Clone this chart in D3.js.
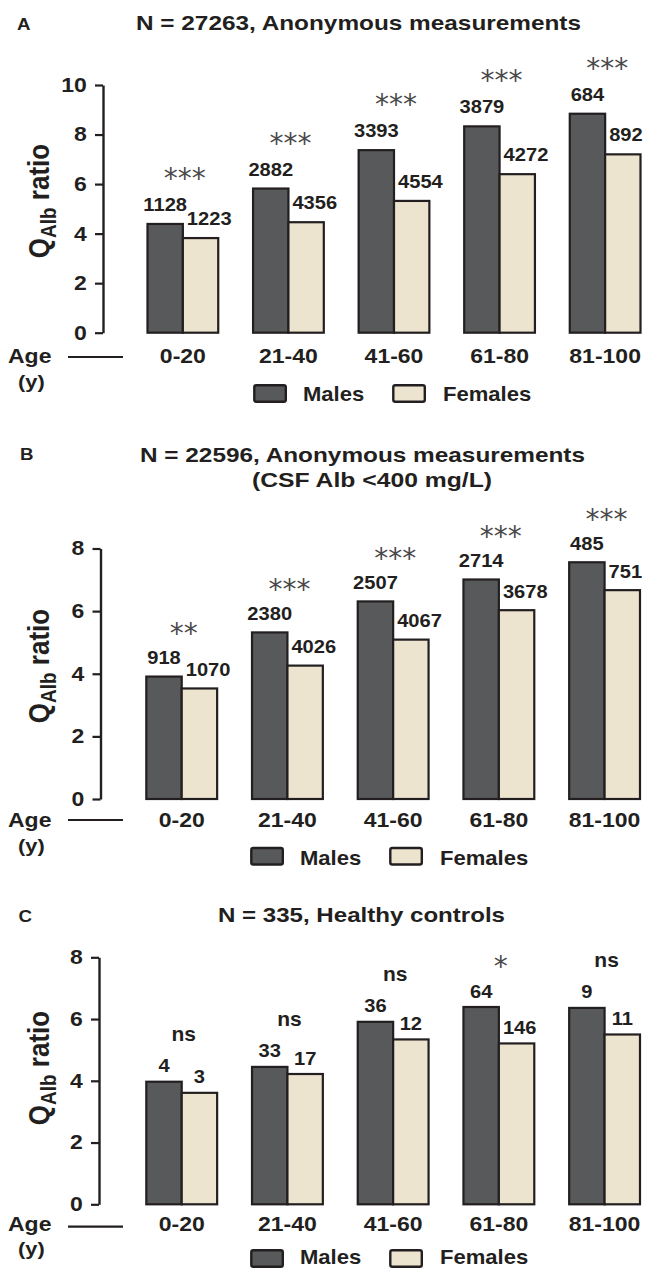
<!DOCTYPE html>
<html>
<head>
<meta charset="utf-8">
<script src="https://cdn.jsdelivr.net/npm/d3@7"></script>
<style>
  html, body { margin: 0; padding: 0; background: #fff; }
  svg { display: block; }
  text { font-family: "Liberation Sans", Arial, sans-serif; font-weight: bold; fill: #231f20; }
</style>
</head>
<body>
<svg id="chart" width="646" height="1269"></svg>
<script>
// ---------------- DATA ----------------
const categories = ["0-20", "21-40", "41-60", "61-80", "81-100"];
const seriesNames = ["Males", "Females"];

const malesA   = [4.39, 5.82, 7.37, 8.33, 8.84];
const femalesA = [3.82, 4.46, 5.32, 6.40, 7.20];
const nMalesA   = [1128, 2882, 3393, 3879, 684];
const nFemalesA = [1223, 4356, 4554, 4272, 892];
const sigA = ["***", "***", "***", "***", "***"];
const yTicksA = [0, 2, 4, 6, 8, 10];

const malesB   = [3.91, 5.32, 6.31, 7.01, 7.56];
const femalesB = [3.53, 4.26, 5.09, 6.03, 6.67];
const nMalesB   = [918, 2380, 2507, 2714, 485];
const nFemalesB = [1070, 4026, 4067, 3678, 751];
const sigB = ["**", "***", "***", "***", "***"];
const yTicksB = [0, 2, 4, 6, 8];

const malesC   = [3.97, 4.45, 5.91, 6.39, 6.36];
const femalesC = [3.61, 4.22, 5.34, 5.21, 5.50];
const nMalesC   = [4, 33, 36, 64, 9];
const nFemalesC = [3, 17, 12, 146, 11];
const sigC = ["ns", "ns", "ns", "*", "ns"];
const yTicksC = [0, 2, 4, 6, 8];

const titlesA = ["N = 27263, Anonymous measurements"];
const titlesB = ["N = 22596, Anonymous measurements", "(CSF Alb <400 mg/L)"];
const titlesC = ["N = 335, Healthy controls"];

// ---------------- LAYOUT ----------------
const SX = 1.15;           // horizontal stretch of the original lettering
const INK = "#231f20";
const MALE = "#58595b";
const FEMALE = "#ede4cf";

const panels = [
  { letter: "A", titles: titlesA, males: malesA, females: femalesA, nM: nMalesA, nF: nFemalesA, sig: sigA, ticks: yTicksA,
    letterX: 17, letterY: 30, titleX: [358.5], titleY: [30], titleW: [445],
    axisX: 103, yTop: 85, yZero: 332.7, bandX: [147.5, 640.5], labelGap: 13, sigGap: 39,
    ageDy: 30.6, lineDy: 24.3, yDy: 55.5, legDy: 52.5, legTextDy: 68.5, legDx: 0, ylabC: 201 },
  { letter: "B", titles: titlesB, males: malesB, females: femalesB, nM: nMalesB, nF: nFemalesB, sig: sigB, ticks: yTicksB,
    letterX: 20, letterY: 460, titleX: [362.5, 372], titleY: [461.5, 486.5], titleW: [445, 240],
    axisX: 100.5, yTop: 548.5, yZero: 799, bandX: [146.3, 640], labelGap: 12.5, sigGap: 36.7,
    ageDy: 27.7, lineDy: 21, yDy: 53, legDy: 49, legTextDy: 66, legDx: -3, ylabC: 666 },
  { letter: "C", titles: titlesC, males: malesC, females: femalesC, nM: nMalesC, nF: nFemalesC, sig: sigC, ticks: yTicksC,
    letterX: 18.5, letterY: 921.7, titleX: [361.5], titleY: [921.7], titleW: [287],
    axisX: 99, yTop: 957.3, yZero: 1204.3, bandX: [146.3, 640], labelGap: 9.5, sigGap: 37.5,
    ageDy: 27, lineDy: 22.4, yDy: 50.5, legDy: 46, legTextDy: 59.5, legDx: -3, ylabC: 1068 }
];

const svg = d3.select("#chart");
svg.append("rect").attr("width", 646).attr("height", 1269).attr("fill", "#fff");

function label(g, str, x, y, size, anchor, sx) {
  return g.append("text")
    .attr("transform", `translate(${x},${y}) scale(${sx == null ? SX : sx},1)`)
    .attr("text-anchor", anchor || "middle")
    .style("font-size", size + "px")
    .text(str);
}

panels.forEach(p => {
  const g = svg.append("g");
  const ymax = p.ticks[p.ticks.length - 1];
  const y = d3.scaleLinear().domain([0, ymax]).range([p.yZero, p.yTop]);
  const x = d3.scaleBand().domain(categories).range(p.bandX).paddingInner(0.33).paddingOuter(0);
  const half = x.bandwidth() / 2;

  // panel letter & title
  label(g, p.letter, p.letterX, p.letterY, 17, "start", 1.1);
  p.titles.forEach((t, i) => {
    g.append("text")
      .attr("x", p.titleX[i]).attr("y", p.titleY[i])
      .attr("text-anchor", "middle")
      .attr("textLength", p.titleW[i]).attr("lengthAdjust", "spacingAndGlyphs")
      .style("font-size", "21px")
      .text(t);
  });

  // y axis
  const yAxis = d3.axisLeft(y).tickValues(p.ticks).tickFormat(d3.format("d"))
    .tickSize(8).tickSizeOuter(0).tickPadding(6);
  const ag = g.append("g").attr("transform", `translate(${p.axisX},0)`).call(yAxis);
  ag.select(".domain").attr("stroke", INK).attr("stroke-width", 2.4);
  ag.selectAll(".tick line").attr("stroke", INK).attr("stroke-width", 2.2);
  ag.selectAll(".tick text")
    .attr("transform", `scale(${SX},1)`)
    .attr("fill", INK)
    .style("font-size", "20px").style("font-family", "'Liberation Sans', Arial, sans-serif").style("font-weight", "bold");

  // y label (Q_Alb ratio)
  const yl = g.append("text")
    .attr("transform", `translate(49,${p.ylabC}) scale(${SX},1) rotate(-90)`)
    .attr("text-anchor", "middle")
    .style("font-size", "26px");
  yl.append("tspan").text("Q");
  yl.append("tspan").attr("dy", 6).style("font-size", "19px").text("Alb");
  yl.append("tspan").attr("dy", -6).text(" ratio");

  // bars
  const bars = g.append("g");
  categories.forEach((c, i) => {
    bars.append("rect")
      .attr("x", x(c)).attr("y", y(p.males[i]))
      .attr("width", half).attr("height", y(0) - y(p.males[i]))
      .attr("fill", MALE).attr("stroke", INK).attr("stroke-width", 2.2);
    bars.append("rect")
      .attr("x", x(c) + half).attr("y", y(p.females[i]))
      .attr("width", half).attr("height", y(0) - y(p.females[i]))
      .attr("fill", FEMALE).attr("stroke", INK).attr("stroke-width", 2.2);
  });

  // counts and significance
  categories.forEach((c, i) => {
    const mx = x(c) + half / 2;
    const mBase = y(p.males[i]) - p.labelGap;
    label(g, String(p.nM[i]), mx, mBase, 17.5, "middle");
    const fBase = y(p.females[i]) - p.labelGap;
    const ft = label(g, String(p.nF[i]), 0, fBase, 17.5, "middle");
    const w = ft.node().getComputedTextLength() * SX;
    const fx = Math.max(x(c) + half * 1.5, x(c) + half + 4 + w / 2);
    ft.attr("transform", `translate(${fx},${fBase}) scale(${SX},1)`);

    const s = p.sig[i];
    const cx = x(c) + half + 2;
    const center = mBase - p.sigGap;
    if (s.startsWith("*")) {
      g.append("text")
        .attr("x", cx).attr("y", center + 16)
        .attr("text-anchor", "middle")
        .style("font-family", "'DejaVu Sans', sans-serif")
        .style("font-weight", "normal")
        .style("font-size", "28px")
        .style("fill", "#4a4a4a")
        .text(s);
    } else {
      label(g, s, cx, center + 6, 20, "middle", 1.05);
    }
  });

  // category labels (x axis without line)
  const xAxis = d3.axisBottom(x).tickSize(0).tickPadding(0);
  const xg = g.append("g").attr("transform", `translate(0,${p.yZero + p.ageDy})`).call(xAxis);
  xg.select(".domain").remove();
  xg.selectAll(".tick text")
    .attr("dy", 0)
    .attr("transform", `scale(${SX},1)`)
    .attr("fill", INK)
    .style("font-size", "20px").style("font-family", "'Liberation Sans', Arial, sans-serif").style("font-weight", "bold");

  // Age (y) marker
  label(g, "Age", 8, p.yZero + p.ageDy, 20, "start");
  label(g, "(y)", 18, p.yZero + p.yDy, 19, "start");
  g.append("line")
    .attr("x1", 68).attr("x2", 123)
    .attr("y1", p.yZero + p.lineDy).attr("y2", p.yZero + p.lineDy)
    .attr("stroke", INK).attr("stroke-width", 2.2);

  // legend
  const lg = g.append("g").attr("transform", `translate(${p.legDx},${p.yZero})`);
  const legX = [254.3, 393.3];
  const legTX = [303, 443];
  const legFill = [MALE, FEMALE];
  seriesNames.forEach((n, i) => {
    lg.append("rect")
      .attr("x", legX[i]).attr("y", p.legDy)
      .attr("width", 31.5).attr("height", 16.5).attr("rx", 2)
      .attr("fill", legFill[i]).attr("stroke", INK).attr("stroke-width", 2.4);
    label(lg, n, legTX[i], p.legTextDy, 21, "start", 1.05);
  });
});
</script>
</body>
</html>
